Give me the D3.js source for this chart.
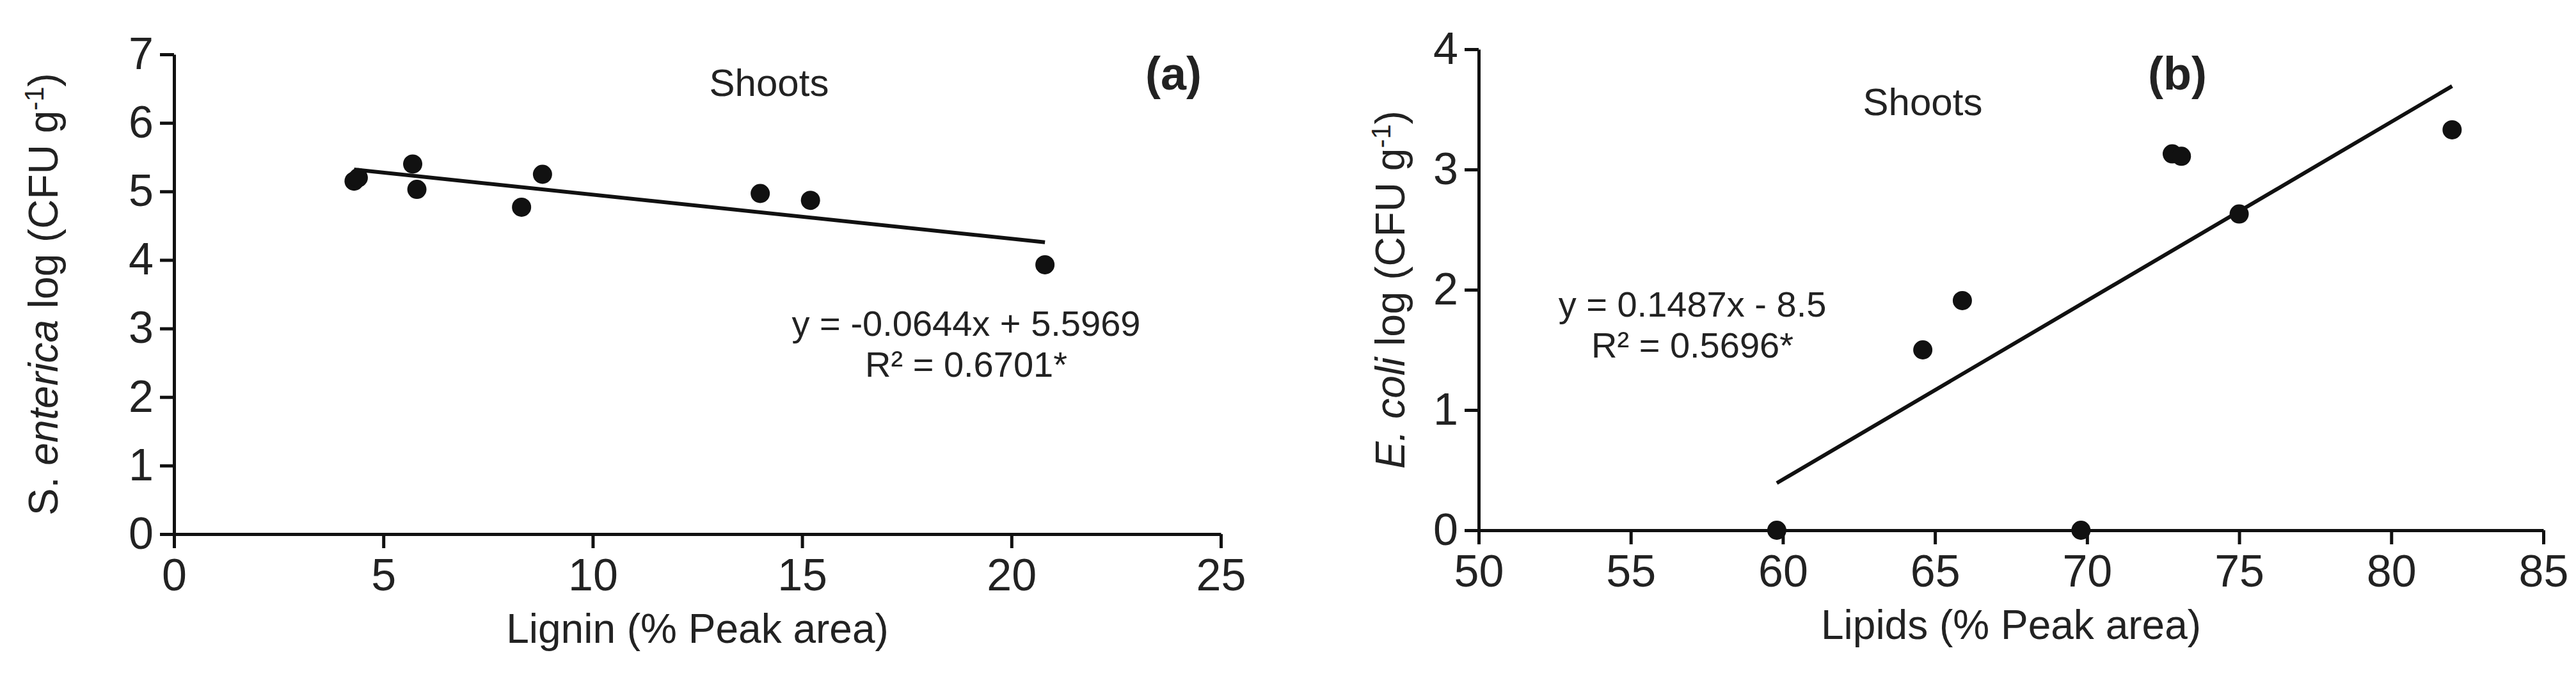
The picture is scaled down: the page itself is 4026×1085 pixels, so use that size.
<!DOCTYPE html><html><head><meta charset="utf-8"><script src="https://cdn.jsdelivr.net/npm/d3@7"></script>
<style>body{margin:0;background:#fff}text{font-family:"Liberation Sans",Arial,sans-serif;fill:#222}</style></head><body>
<svg id="c" width="4026" height="1085"></svg>
<script>
const aX=[4.3,4.4,5.7,5.8,8.3,8.8,14.0,15.2,20.8];
const aY=[5.15,5.2,5.4,5.03,4.77,5.25,4.97,4.87,3.93];
const aFit={slope:-0.0644,intercept:5.5969,x0:4.3,x1:20.8};
const aXTicks=[0,5,10,15,20,25], aYTicks=[0,1,2,3,4,5,6,7];
const bX=[59.8,69.8,64.6,65.9,72.8,73.1,75.0,82.0];
const bY=[0,0,1.5,1.91,3.13,3.11,2.63,3.33];
const bFit={slope:0.1487,intercept:-8.5,x0:59.8,x1:82};
const bXTicks=[50,55,60,65,70,75,80,85], bYTicks=[0,1,2,3,4];
const svg=d3.select("#c");
function panel(o){
 const x=d3.scaleLinear().domain(o.xd).range([o.l,o.r]);
 const y=d3.scaleLinear().domain(o.yd).range([o.b,o.t]);
 const g=svg.append("g");
 const xa=g.append("g").attr("transform",`translate(0,${o.b})`).call(d3.axisBottom(x).tickValues(o.xt).tickFormat(d3.format("d")).tickSize(22).tickSizeOuter(0).tickPadding(16));
 const ya=g.append("g").attr("transform",`translate(${o.l},0)`).call(d3.axisLeft(y).tickValues(o.yt).tickFormat(d3.format("d")).tickSize(22).tickSizeOuter(0).tickPadding(10));
 [xa,ya].forEach(a=>{a.selectAll("path,line").attr("stroke","#111").attr("stroke-width",5);a.selectAll("text").attr("font-size",70).attr("fill","#222").style("font-family","Liberation Sans");});
 g.append("line").attr("x1",x(o.fit.x0)).attr("x2",x(o.fit.x1)).attr("y1",y(o.fit.slope*o.fit.x0+o.fit.intercept)).attr("y2",y(o.fit.slope*o.fit.x1+o.fit.intercept)).attr("stroke","#111").attr("stroke-width",6);
 g.selectAll("circle").data(o.xs.map((v,i)=>[v,o.ys[i]])).join("circle").attr("cx",d=>x(d[0])).attr("cy",d=>y(d[1])).attr("r",15).attr("fill","#111");
 const t=(X,Y,s,sz,extra)=>{const e=g.append("text").attr("x",X).attr("y",Y).attr("text-anchor","middle").attr("font-size",sz);e.html(s);if(extra)extra(e);return e;};
 t(o.sh[0],o.sh[1],"Shoots",60);
 t(o.lab[0],o.lab[1],o.labT,72,e=>e.attr("font-weight","bold").attr("fill","#111"));
 t(o.eq[0],o.eq[1],o.eq1,56);
 t(o.eq[0],o.eq[1]+64,o.eq2,56);
 t((o.l+o.r)/2,o.b+170,o.xl,64);
 g.append("text").attr("transform",`translate(${o.yx},${(o.t+o.b)/2}) rotate(-90)`).attr("text-anchor","middle").attr("font-size",64).html(o.yl);
}
panel({xd:[0,25],yd:[0,7],l:272,r:1908,t:85,b:835,xt:aXTicks,yt:aYTicks,xs:aX,ys:aY,fit:aFit,
 sh:[1202,150],lab:[1834,140],labT:"(a)",eq:[1510,525],eq1:"y = -0.0644x + 5.5969",eq2:"R² = 0.6701*",
 xl:"Lignin (% Peak area)",yx:90,yl:'S. <tspan font-style="italic">enterica</tspan> log (CFU g<tspan dy="-22" font-size="42">-1</tspan><tspan dy="22">)</tspan>'});
panel({xd:[50,85],yd:[0,4],l:2311,r:3975,t:77,b:829,xt:bXTicks,yt:bYTicks,xs:bX,ys:bY,fit:bFit,
 sh:[3005,180],lab:[3403,140],labT:"(b)",eq:[2645,495],eq1:"y = 0.1487x - 8.5",eq2:"R² = 0.5696*",
 xl:"Lipids (% Peak area)",yx:2195,yl:'<tspan font-style="italic">E. coli</tspan> log (CFU g<tspan dy="-22" font-size="42">-1</tspan><tspan dy="22">)</tspan>'});
</script></body></html>
